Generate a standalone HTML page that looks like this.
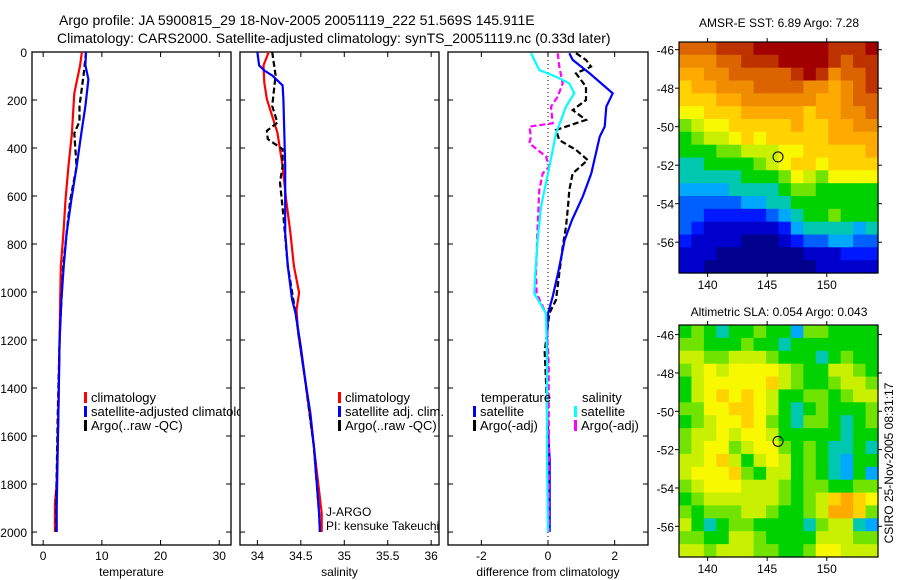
<!DOCTYPE html>
<html><head><meta charset="utf-8"><style>
html,body{margin:0;padding:0;background:#fff;}
svg{display:block;font-family:"Liberation Sans",sans-serif;}
</style></head><body>
<svg id="fig" width="900" height="580" viewBox="0 0 900 580">
<rect width="900" height="580" fill="#fff"/>
<text x="59" y="25" font-size="14">Argo profile: JA 5900815_29 18-Nov-2005 20051119_222 51.569S 145.911E</text>
<text x="57" y="43" font-size="14">Climatology: CARS2000. Satellite-adjusted climatology: synTS_20051119.nc (0.33d later)</text>
<g id="plots"></g>
<text x="779" y="27" font-size="12" text-anchor="middle">AMSR-E SST: 6.89 Argo: 7.28</text>
<text x="779" y="316" font-size="12" text-anchor="middle">Altimetric SLA: 0.054 Argo: 0.043</text>
<text x="0" y="0" font-size="12" text-anchor="middle" transform="translate(893,463) rotate(-90)">CSIRO 25-Nov-2005 08:31:17</text>
</svg>
<script>
// ---- data ----
const depthTicks=[0,200,400,600,800,1000,1200,1400,1600,1800,2000];
const tempTicks=[0,10,20,30];
const salTicks=[34,34.5,35,35.5,36];
const diffTicks=[-2,0,2];
const lonTicks=[140,145,150];
const latTicks=[-46,-48,-50,-52,-54,-56];

const tDepthClim=[0,56,172,339,478,617,756,894,1033,1200,1500,1800,1880,2000];
const tClim=[6.6,6.3,5.3,4.9,4.3,3.8,3.45,3.0,2.9,2.8,2.6,2.3,2.0,2.0];
const tDepthSat=[0,56,114,225,339,478,617,756,894,1033,1200,1500,1900,2000];
const tSat=[7.3,7.2,7.7,7.2,6.5,5.7,4.8,4.0,3.5,3.1,2.8,2.6,2.3,2.3];
const tDepthArgo=[0,92,225,289,339,478,617,756,894,1033,1200,1500,1900,2000];
const tArgo=[7.3,6.9,6.2,6.2,5.3,5.7,4.6,4.0,3.4,3.1,2.8,2.5,2.2,2.2];

const sDepthClim=[0,56,128,197,267,336,475,614,753,892,1003,1075,1172,1367,1644,1922,2000];
const sClim=[34.13,34.07,34.08,34.11,34.17,34.23,34.29,34.33,34.38,34.42,34.48,34.45,34.47,34.55,34.65,34.74,34.74];
const sDepthSat=[0,56,77,98,139,197,475,753,892,1031,1089,1228,1367,1506,1644,1783,1922,2000];
const sSat=[34.0,34.02,34.08,34.17,34.29,34.3,34.32,34.32,34.35,34.4,34.44,34.5,34.55,34.61,34.65,34.68,34.71,34.72];
const sDepthArgo=[0,98,225,294,328,363,405,475,544,683,892,1089,1367,1644,1922,2000];
const sArgo=[34.17,34.21,34.17,34.23,34.11,34.12,34.29,34.29,34.26,34.3,34.35,34.44,34.55,34.65,34.71,34.72];

const dDepthTs=[5,33,89,172,228,311,353,506,603,700,783,922,1019,1089,1200,1500,1700,2000];
const dTs=[0.64,0.74,1.25,1.94,1.75,1.7,1.55,1.3,1.04,0.72,0.5,0.3,0.14,0.0,-0.03,-0.03,0.05,0.05];
const dDepthTa=[5,33,61,89,144,200,242,283,325,367,408,450,506,575,644,728,811,922,1033,1089,1250,1400,1600,2000];
const dTa=[0.84,1.14,1.29,0.84,1.14,1.14,0.74,1.14,0.24,0.34,0.84,1.19,0.74,0.64,0.6,0.54,0.44,0.34,0.24,0.04,-0.1,-0.05,0.0,0.02];
const dDepthSs=[5,75,103,131,172,228,339,506,644,783,922,1006,1089,1300,1700,2000];
const dSs=[-0.51,-0.26,0.24,0.64,0.79,0.54,0.24,0.0,-0.21,-0.31,-0.38,-0.41,-0.06,-0.03,-0.03,0.0];
const dDepthSa=[5,61,131,186,228,297,311,353,380,436,478,506,575,714,922,1006,1089,1300,2000];
const dSa=[0.29,0.34,0.44,0.29,0.09,0.14,-0.56,-0.51,-0.56,-0.06,0.04,-0.16,-0.26,-0.31,-0.36,-0.34,-0.06,0.02,0.03];

const sstRows=[
"dddeeeffffffeeef","cccddeeeffffedee","bbccdddddefecdde","abbcccddddccbcde","aaabbccccccbbcdd",
"99aaabbbbbabbccd","7899aaaaabaabbcc","67889a9aaaaabbbb","6667788899aaaaab","556666789aa9aaaa",
"5555566679879999","4444555567766666","3333344556666666","3322222345667666","3211111124555545",
"2111100012334433","1110000000111222","1100000000011111"];
const slaRows=[
"6765667664776666","7766676656666666","8877888766656766","7898999987668876","6899999a87667887",
"689a9a9866776788","7799aa9865676667","67899a9765776567","7889899866666566","7899789976765565",
"889a868986765466","8999a76886765464","7899988876776677","678888887678aba9","767778876678bba7",
"8656776666578854","7766887666688877","8878887766799888"];

// ---- helpers ----
const NS="http://www.w3.org/2000/svg";
const G=document.getElementById('plots');
function mk(tag,attrs,parent){const e=document.createElementNS(NS,tag);for(const k in attrs)e.setAttribute(k,attrs[k]);(parent||G).appendChild(e);return e;}
function lin(d0,d1,r0,r1){return v=>r0+(v-d0)*(r1-r0)/(d1-d0);}
const yD=lin(0,2054,52,545);

function panel(x0,x1,xd0,xd1,xticks,xlab,name,showY){
  const g=mk('g',{});
  
  
  const r=mk('rect',{x:x0,y:52,width:x1-x0,height:493,fill:'#fff',stroke:'#000','stroke-width':1.3},g);
  
  
  const xs=lin(xd0,xd1,x0,x1);
  depthTicks.forEach(d=>{
    const y=yD(d);
    mk('line',{x1:x0,x2:x0+5,y1:y,y2:y,stroke:'#000'},g);
    mk('line',{x1:x1-5,x2:x1,y1:y,y2:y,stroke:'#000'},g);
    if(showY){const t=mk('text',{x:x0-5,y:y+5,'font-size':12,'text-anchor':'end'},g);t.textContent=d;
      
      }
  });
  xticks.forEach(v=>{
    const x=xs(v);
    mk('line',{x1:x,x2:x,y1:52,y2:57,stroke:'#000'},g);
    mk('line',{x1:x,x2:x,y1:540,y2:545,stroke:'#000'},g);
    const t=mk('text',{x:x,y:560,'font-size':12,'text-anchor':'middle'},g);t.textContent=v;
    
    
  });
  const xl=mk('text',{x:(x0+x1)/2,y:576,'font-size':12,'text-anchor':'middle'},g);xl.textContent=xlab;
  
  
  return {g,xs};
}
function series(p,depths,vals,color,dash,name){
  const pts=vals.map((v,i)=>p.xs(v).toFixed(1)+','+yD(depths[i]).toFixed(1)).join(' ');
  const a={points:pts,fill:'none',stroke:color,'stroke-width':2.2};
  if(dash)a['stroke-dasharray']=dash;
  const l=mk('polyline',a,p.g);
  
  
}
function legend(g,x,y,items){
  items.forEach((it,i)=>{
    const yy=y+i*14;
    mk('rect',{x:x,y:yy-10,width:3,height:11,fill:it[0]},g);
    const t=mk('text',{x:x+7,y:yy,'font-size':13},g);t.textContent=it[1];
    
    
  });
}

// panel 1
const p1=panel(32,231,-1.9,32.0,tempTicks,'temperature','temperature-panel',true);
series(p1,tDepthClim,tClim,'#f00',null,'temp-climatology-line');
series(p1,tDepthArgo,tArgo,'#000','6,3','temp-argo-line');
series(p1,tDepthSat,tSat,'#00f',null,'temp-satellite-line');
legend(p1.g,84,402,[['#f00','climatology'],['#00f','satellite-adjusted climatology'],['#000','Argo(..raw -QC)']]);
// panel 2
const p2=panel(240,439,33.80,36.09,salTicks,'salinity','salinity-panel',false);
series(p2,sDepthClim,sClim,'#f00',null,'sal-climatology-line');
series(p2,sDepthArgo,sArgo,'#000','6,3','sal-argo-line');
series(p2,sDepthSat,sSat,'#00f',null,'sal-satellite-line');
legend(p2.g,338,402,[['#f00','climatology'],['#00f','satellite adj. clim.'],['#000','Argo(..raw -QC)']]);
const ja=mk('text',{x:326,y:516,'font-size':12},p2.g);ja.textContent='J-ARGO';


const pi=mk('text',{x:326,y:530,'font-size':12},p2.g);pi.textContent='PI: kensuke Takeuchi';


// panel 3
const p3=panel(448,648,-3,3,diffTicks,'difference from climatology','difference-panel',false);
mk('line',{x1:p3.xs(0),x2:p3.xs(0),y1:52,y2:545,stroke:'#000','stroke-dasharray':'1,3'},p3.g);
series(p3,dDepthTa,dTa,'#000','6,3','diff-temp-argo-line');
series(p3,dDepthTs,dTs,'#00f',null,'diff-temp-satellite-line');
series(p3,dDepthSa,dSa,'#f0f','6,3','diff-sal-argo-line');
series(p3,dDepthSs,dSs,'#0ff',null,'diff-sal-satellite-line');
const tt=mk('text',{x:481,y:402,'font-size':13},p3.g);tt.textContent='temperature';


const st=mk('text',{x:582,y:402,'font-size':13},p3.g);st.textContent='salinity';


legend(p3.g,473,416,[['#00f','satellite'],['#000','Argo(-adj)']]);
legend(p3.g,574,416,[['#0ff','satellite'],['#f0f','Argo(-adj)']]);

// ---- maps ----
const jet=['#00008c','#0000cc','#0018ff','#0060ff','#00a8ff','#00c8b0','#00d200','#70e400','#c8f000','#f8f800','#ffd200','#ffaa00','#f08c00','#dc6400','#be3200','#a00000'];
function map(x0,x1,y0,y1,lat0,lat1,rows,name){
  const g=mk('g',{});
  
  
  const lon=lin(137.6,154.3,x0,x1), lat=lin(lat0,lat1,y0,y1);
  const nr=rows.length;
  rows.forEach((r,i)=>{
    const nc=r.length;
    for(let j=0;j<nc;j++){
      const v=parseInt(r[j],16);
      const cx=x0+j*(x1-x0)/nc, cy=y0+i*(y1-y0)/nr;
      const c=mk('rect',{x:cx.toFixed(1),y:cy.toFixed(1),width:((x1-x0)/nc+0.6).toFixed(1),height:((y1-y0)/nr+0.6).toFixed(1),fill:jet[v]},g);
      
      
    }
  });
  const fr=mk('rect',{x:x0,y:y0,width:x1-x0,height:y1-y0,fill:'none',stroke:'#000','stroke-width':1.2},g);
  
  
  lonTicks.forEach(v=>{const x=lon(v);
    mk('line',{x1:x,x2:x,y1:y0-4,y2:y0,stroke:'#000'},g);
    mk('line',{x1:x,x2:x,y1:y1,y2:y1+4,stroke:'#000'},g);
    const t=mk('text',{x:x,y:y1+16,'font-size':12,'text-anchor':'middle'},g);t.textContent=v;
    
    });
  latTicks.forEach(v=>{const y=lat(v);
    mk('line',{x1:x0-4,x2:x0,y1:y,y2:y,stroke:'#000'},g);
    mk('line',{x1:x1,x2:x1+4,y1:y,y2:y,stroke:'#000'},g);
    const t=mk('text',{x:x0-5,y:y+5,'font-size':12,'text-anchor':'end'},g);t.textContent=v;
    
    });
  const m=mk('circle',{cx:lon(145.911),cy:lat(-51.569),r:5,fill:'none',stroke:'#000','stroke-width':1},g);
  
  
}
map(679,878,42,273,-45.6,-57.6,sstRows,'sst-map');
map(679,878,325,557,-45.5,-57.6,slaRows,'sla-map');
</script>
</body></html>
